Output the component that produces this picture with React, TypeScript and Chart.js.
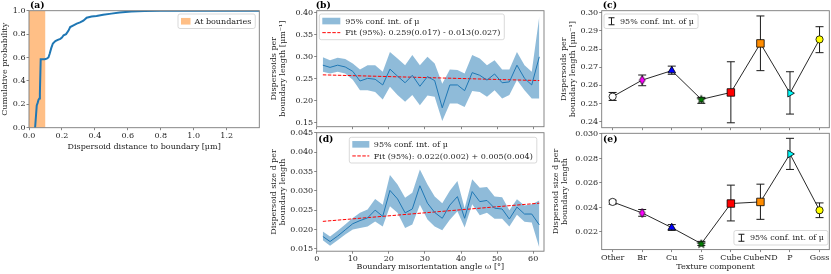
import React, { useEffect, useRef } from 'react';
import { Chart, registerables } from 'chart.js';

Chart.register(...registerables);

// ------------------------------ data ------------------------------
// (a) cumulative distribution of dispersoid distance to boundary
const distanceUm = [0.037, 0.047, 0.052, 0.058, 0.063, 0.066, 0.071, 0.08, 0.095, 0.108, 0.118, 0.125, 0.135, 0.145, 0.16, 0.175, 0.19, 0.2, 0.21, 0.225, 0.24, 0.25, 0.27, 0.29, 0.31, 0.33, 0.35, 0.38, 0.41, 0.45, 0.5, 0.55, 0.62, 0.7, 0.8, 1.0, 1.4];
const cumulativeProb = [0, 0.19, 0.21, 0.24, 0.25, 0.29, 0.585, 0.585, 0.585, 0.59, 0.6, 0.63, 0.68, 0.72, 0.74, 0.75, 0.76, 0.77, 0.79, 0.8, 0.83, 0.86, 0.875, 0.89, 0.9, 0.915, 0.94, 0.95, 0.955, 0.965, 0.975, 0.985, 0.993, 0.997, 1.0, 1.0, 1.0];
const boundaryZone = [0, 0.1];

// (b), (d) vs boundary misorientation angle
const misorientation = [1.7, 3.7, 5.8, 7.9, 10.0, 12.0, 14.1, 16.2, 18.3, 20.3, 22.4, 24.5, 26.5, 28.6, 30.7, 32.7, 34.8, 36.9, 39.0, 41.0, 43.1, 45.2, 47.2, 49.3, 51.4, 53.4, 55.5, 57.6, 59.6, 61.7];
const densityMean = [0.281, 0.276, 0.281, 0.277, 0.267, 0.245, 0.251, 0.249, 0.236, 0.272, 0.256, 0.241, 0.258, 0.233, 0.255, 0.246, 0.184, 0.236, 0.236, 0.223, 0.264, 0.258, 0.247, 0.261, 0.241, 0.243, 0.281, 0.251, 0.236, 0.3];
const densityHigh = [0.299, 0.292, 0.298, 0.295, 0.285, 0.271, 0.281, 0.281, 0.266, 0.311, 0.296, 0.281, 0.304, 0.281, 0.3, 0.285, 0.239, 0.271, 0.27, 0.262, 0.304, 0.296, 0.281, 0.292, 0.271, 0.271, 0.311, 0.281, 0.266, 0.392];
const densityLow = [0.266, 0.262, 0.266, 0.262, 0.248, 0.224, 0.224, 0.22, 0.203, 0.232, 0.213, 0.198, 0.213, 0.19, 0.212, 0.209, 0.154, 0.194, 0.194, 0.186, 0.222, 0.22, 0.209, 0.224, 0.205, 0.213, 0.247, 0.224, 0.205, 0.205];
const densityFitX = [1.7, 61.7];
const densityFit = [0.259, 0.246];

const sizeMean = [0.0182, 0.0169, 0.0183, 0.0199, 0.0215, 0.0223, 0.023, 0.025, 0.0234, 0.0301, 0.0279, 0.0243, 0.0253, 0.0313, 0.0268, 0.0244, 0.0229, 0.0263, 0.0285, 0.0229, 0.0298, 0.0272, 0.0275, 0.0255, 0.0253, 0.0227, 0.0258, 0.024, 0.024, 0.0212];
const sizeHigh = [0.0195, 0.0182, 0.0197, 0.0213, 0.023, 0.0243, 0.0252, 0.0279, 0.0264, 0.0341, 0.0316, 0.0282, 0.0295, 0.0355, 0.0316, 0.0285, 0.0268, 0.03, 0.0325, 0.0255, 0.033, 0.0308, 0.031, 0.0285, 0.0283, 0.025, 0.0278, 0.0262, 0.0265, 0.0275];
const sizeLow = [0.0172, 0.0158, 0.0172, 0.0187, 0.02, 0.0204, 0.0208, 0.0221, 0.0208, 0.026, 0.0243, 0.0204, 0.0213, 0.0264, 0.0226, 0.0208, 0.0198, 0.0225, 0.0247, 0.0205, 0.0265, 0.0237, 0.0243, 0.0228, 0.0228, 0.0208, 0.0238, 0.022, 0.0218, 0.0153];
const sizeFitX = [1.7, 61.7];
const sizeFit = [0.0221, 0.0268];

// (c), (e) per texture component
const textureComponents = ['Other', 'Br', 'Cu', 'S', 'Cube', 'CubeND', 'P', 'Goss'];
const texDensityMean = [0.2538, 0.2629, 0.2681, 0.2523, 0.2561, 0.2831, 0.2557, 0.2853];
const texDensityLow = [0.2517, 0.2598, 0.2661, 0.2501, 0.2394, 0.2681, 0.2442, 0.278];
const texDensityHigh = [0.2561, 0.2657, 0.2706, 0.2534, 0.273, 0.2982, 0.2675, 0.2923];
const texSizeMean = [0.02445, 0.02355, 0.02235, 0.02104, 0.02432, 0.02445, 0.02836, 0.02377];
const texSizeLow = [0.02426, 0.02328, 0.02213, 0.0209, 0.0229, 0.02303, 0.0271, 0.02317];
const texSizeHigh = [0.02459, 0.02383, 0.0226, 0.02123, 0.02582, 0.0259, 0.02964, 0.02437];

// ------------------------------ style ------------------------------
const W = 831;
const H = 274;
const serif = '"DejaVu Serif", serif';
const TICK_FS = 8;
const TITLE_FS = 8;
const LEG_FS = 8;
const LBL_FS = 9.2;
const TXT = '#1e1e1e';
const SPINE = '#7a7a7a';
const BLUE = '#1f77b4';
const BAND = 'rgba(31,119,180,0.5)';
const ORANGE = 'rgba(255,127,14,0.5)';
const NONE = 'rgba(0,0,0,0)';

type Area = { l: number; t: number; r: number; b: number };

function axis(o: {
  pos: 'left' | 'bottom'; min: number; max: number; step: number; decimals?: number;
  labels?: boolean; names?: string[]; title?: string | string[]; size: number; pad?: number; titlePad?: number;
}) {
  return {
    type: 'linear',
    position: o.pos,
    min: o.min,
    max: o.max,
    afterBuildTicks: (s: any) => {
      const out: any[] = [];
      const k0 = Math.ceil(o.min / o.step - 1e-6);
      const k1 = Math.floor(o.max / o.step + 1e-6);
      for (let k = k0; k <= k1; k++) out.push({ value: +(k * o.step).toFixed(10) });
      s.ticks = out;
    },
    afterFit: (s: any) => {
      if (o.pos === 'bottom') s.height = o.size; else s.width = o.size;
    },
    ticks: {
      display: o.labels !== false,
      stepSize: o.step,
      autoSkip: false,
      maxRotation: 0,
      minRotation: 0,
      padding: o.pad ?? 1,
      color: TXT,
      font: { family: serif, size: TICK_FS, lineHeight: 1.2 },
      callback: (v: any) => (o.names ? o.names[Math.round(Number(v))] ?? '' : Number(v).toFixed(o.decimals ?? 1)),
    },
    grid: { display: true, drawOnChartArea: false, drawTicks: true, tickLength: 2.5, tickColor: SPINE, tickWidth: 0.9, color: SPINE, lineWidth: 0.9 },
    border: { display: false },
    title: o.title
      ? { display: true, text: o.title, color: TXT, font: { family: serif, size: TITLE_FS, lineHeight: 1.15 }, padding: { top: o.titlePad ?? 0, bottom: o.titlePad ?? 0 } }
      : { display: false },
  };
}

function baseOptions(area: Area, axisLeft: number, axisBottom: number, scales: any) {
  return {
    responsive: false,
    animation: false,
    devicePixelRatio: 1,
    events: [],
    layout: { autoPadding: false, padding: { left: axisLeft, top: area.t, right: W - area.r, bottom: H - axisBottom } },
    plugins: { legend: { display: false }, tooltip: { enabled: false }, title: { display: false } },
    scales,
  };
}

const framePlugin = {
  id: 'frame',
  afterDatasetsDraw(chart: any) {
    const { ctx, chartArea: a } = chart;
    ctx.save();
    ctx.strokeStyle = SPINE;
    ctx.lineWidth = 0.9;
    ctx.strokeRect(a.left, a.top, a.right - a.left, a.bottom - a.top);
    ctx.restore();
  },
};

function panelLabel(text: string, dx: number, y: number) {
  return {
    id: 'panelLabel',
    afterDraw(chart: any) {
      const { ctx, chartArea } = chart;
      ctx.save();
      ctx.font = `bold ${LBL_FS}px ${serif}`;
      ctx.fillStyle = '#000';
      ctx.textAlign = 'left';
      ctx.textBaseline = 'alphabetic';
      ctx.fillText(text, chartArea.left + dx, y);
      ctx.restore();
    },
  };
}

type LegItem = { kind: 'patch' | 'dash' | 'errbar'; color: string; text: string };
function legendPlugin(cfg: { left?: number; right?: number; top: number; rowH: number; handleW: number; gap: number; items: LegItem[] }) {
  return {
    id: 'customLegend',
    afterDraw(chart: any) {
      const ctx = chart.ctx as CanvasRenderingContext2D;
      ctx.save();
      ctx.font = `${LEG_FS}px ${serif}`;
      const textW = Math.max(...cfg.items.map((it) => ctx.measureText(it.text).width));
      const pad = 3;
      const w = pad + cfg.handleW + cfg.gap + textW + pad + 1;
      const h = cfg.rowH * cfg.items.length + 2.5;
      const x0 = cfg.left ?? (cfg.right as number) - w;
      ctx.beginPath();
      (ctx as any).roundRect(x0, cfg.top, w, h, 2);
      ctx.fillStyle = 'rgba(255,255,255,0.8)';
      ctx.fill();
      ctx.strokeStyle = '#cfcfcf';
      ctx.lineWidth = 0.8;
      ctx.stroke();
      cfg.items.forEach((it, i) => {
        const cy = cfg.top + 1.25 + cfg.rowH * (i + 0.5);
        const hx = x0 + pad;
        if (it.kind === 'patch') {
          ctx.fillStyle = it.color;
          ctx.fillRect(hx, cy - 3.3, cfg.handleW, 6.6);
        } else if (it.kind === 'dash') {
          ctx.strokeStyle = it.color;
          ctx.lineWidth = 1;
          ctx.setLineDash([3.5, 1.5]);
          ctx.beginPath();
          ctx.moveTo(hx, cy);
          ctx.lineTo(hx + cfg.handleW, cy);
          ctx.stroke();
          ctx.setLineDash([]);
        } else {
          const mx = hx + cfg.handleW / 2;
          ctx.strokeStyle = it.color;
          ctx.lineWidth = 1;
          ctx.beginPath();
          ctx.moveTo(mx, cy - 3.5);
          ctx.lineTo(mx, cy + 3.5);
          ctx.moveTo(mx - 3, cy - 3.5);
          ctx.lineTo(mx + 3, cy - 3.5);
          ctx.moveTo(mx - 3, cy + 3.5);
          ctx.lineTo(mx + 3, cy + 3.5);
          ctx.stroke();
        }
        ctx.fillStyle = TXT;
        ctx.textAlign = 'left';
        ctx.textBaseline = 'middle';
        ctx.fillText(it.text, hx + cfg.handleW + cfg.gap, cy + 0.5);
      });
      ctx.restore();
    },
  };
}

function errorBarPlugin(lo: number[], hi: number[]) {
  return {
    id: 'errbars',
    beforeDatasetsDraw(chart: any) {
      const { ctx } = chart;
      const xs = chart.scales.x;
      const ys = chart.scales.y;
      ctx.save();
      ctx.strokeStyle = '#1a1a1a';
      ctx.lineWidth = 1;
      const cap = 4;
      lo.forEach((l, i) => {
        const px = xs.getPixelForValue(i);
        const y1 = ys.getPixelForValue(l);
        const y2 = ys.getPixelForValue(hi[i]);
        ctx.beginPath();
        ctx.moveTo(px, y1);
        ctx.lineTo(px, y2);
        ctx.moveTo(px - cap, y1);
        ctx.lineTo(px + cap, y1);
        ctx.moveTo(px - cap, y2);
        ctx.lineTo(px + cap, y2);
        ctx.stroke();
      });
      ctx.restore();
    },
  };
}

function markerCanvas(w: number, h: number, draw: (ctx: CanvasRenderingContext2D) => void) {
  const c = document.createElement('canvas');
  c.width = w;
  c.height = h;
  const ctx = c.getContext('2d') as CanvasRenderingContext2D;
  draw(ctx);
  return c;
}

function texturePointStyles() {
  const diamond = markerCanvas(8, 11, (ctx) => {
    ctx.beginPath();
    ctx.moveTo(4, 1);
    ctx.lineTo(6.8, 5.5);
    ctx.lineTo(4, 10);
    ctx.lineTo(1.2, 5.5);
    ctx.closePath();
    ctx.fillStyle = '#ff00ff';
    ctx.fill();
    ctx.strokeStyle = '#000';
    ctx.lineWidth = 0.8;
    ctx.stroke();
  });
  const star = markerCanvas(10, 10, (ctx) => {
    ctx.beginPath();
    for (let i = 0; i < 10; i++) {
      const r = i % 2 === 0 ? 4.4 : 1.9;
      const a = -Math.PI / 2 + (i * Math.PI) / 5;
      const px = 5 + r * Math.cos(a);
      const py = 5.3 + r * Math.sin(a);
      if (i === 0) ctx.moveTo(px, py); else ctx.lineTo(px, py);
    }
    ctx.closePath();
    ctx.fillStyle = '#008000';
    ctx.fill();
    ctx.strokeStyle = '#000';
    ctx.lineWidth = 0.7;
    ctx.stroke();
  });
  return {
    styles: ['circle', diamond, 'triangle', star, 'rect', 'rect', 'triangle', 'circle'],
    rotations: [0, 0, 0, 0, 0, 0, 90, 0],
    radii: [3.6, 4, 4.4, 4, 5.3, 5.3, 4.4, 3.6],
    fills: ['#ffffff', '#ff00ff', '#0000ff', '#008000', '#ff0000', '#ff8c00', '#00ffff', '#ffff00'],
  };
}

const pts = (xs: number[], ys: number[]) => xs.map((x, i) => ({ x, y: ys[i] }));

// ------------------------------ panels ------------------------------
function buildA(canvas: HTMLCanvasElement) {
  const area: Area = { l: 29, t: 10.7, r: 259.3, b: 127.7 };
  const axisLeft = 0;
  const axisBottom = 151.9;
  return new Chart(canvas, {
    type: 'line',
    data: {
      datasets: [
        { data: pts(distanceUm, cumulativeProb), borderColor: BLUE, borderWidth: 2, pointRadius: 0, fill: false, tension: 0 },
        { data: pts(boundaryZone, boundaryZone.map(() => 1)), borderColor: NONE, borderWidth: 0, pointRadius: 0, backgroundColor: ORANGE, fill: 'origin' },
      ],
    } as any,
    options: baseOptions(area, axisLeft, axisBottom, {
      x: axis({ pos: 'bottom', min: 0, max: 1.398, step: 0.2, decimals: 1, title: 'Dispersoid distance to boundary [μm]', size: axisBottom - area.b, pad: 1 }),
      y: axis({ pos: 'left', min: 0, max: 1, step: 0.2, decimals: 1, title: 'Cumulative probability', size: area.l - axisLeft, pad: 1, titlePad: 0.4 }),
    }) as any,
    plugins: [
      framePlugin,
      legendPlugin({ left: 178, top: 14, rowH: 12, handleW: 9.5, gap: 4, items: [{ kind: 'patch', color: ORANGE, text: 'At boundaries' }] }),
      panelLabel('(a)', 1, 7.6),
    ] as any,
  });
}

function buildB(canvas: HTMLCanvasElement) {
  const area: Area = { l: 316.7, t: 10.7, r: 544, b: 126.7 };
  const axisLeft = 269.4;
  const axisBottom = 131;
  return new Chart(canvas, {
    type: 'line',
    data: {
      datasets: [
        { data: pts(misorientation, densityMean), borderColor: BLUE, borderWidth: 1, pointRadius: 0, fill: false },
        { data: pts(densityFitX, densityFit), borderColor: '#ff0000', borderWidth: 1, borderDash: [3.5, 1.5], pointRadius: 0, fill: false },
        { data: pts(misorientation, densityHigh), borderColor: NONE, borderWidth: 0, pointRadius: 0, backgroundColor: BAND, fill: '+1' },
        { data: pts(misorientation, densityLow), borderColor: NONE, borderWidth: 0, pointRadius: 0, fill: false },
      ],
    } as any,
    options: baseOptions(area, axisLeft, axisBottom, {
      x: axis({ pos: 'bottom', min: 0, max: 63, step: 10, labels: false, size: axisBottom - area.b }),
      y: axis({ pos: 'left', min: 0.141, max: 0.405, step: 0.05, decimals: 2, title: ['Dispersoids per', 'boundary length [μm⁻¹]'], size: area.l - axisLeft, pad: 1 }),
    }) as any,
    plugins: [
      framePlugin,
      legendPlugin({
        left: 319.3, top: 14, rowH: 11.6, handleW: 18, gap: 5,
        items: [
          { kind: 'patch', color: BAND, text: '95% conf. int. of μ' },
          { kind: 'dash', color: '#ff0000', text: 'Fit (95%): 0.259(0.017) - 0.013(0.027)' },
        ],
      }),
      panelLabel('(b)', -1, 7.6),
    ] as any,
  });
}

function buildD(canvas: HTMLCanvasElement) {
  const area: Area = { l: 316.7, t: 132.7, r: 544, b: 251.2 };
  const axisLeft = 269.4;
  const axisBottom = 271.9;
  return new Chart(canvas, {
    type: 'line',
    data: {
      datasets: [
        { data: pts(misorientation, sizeMean), borderColor: BLUE, borderWidth: 1, pointRadius: 0, fill: false },
        { data: pts(sizeFitX, sizeFit), borderColor: '#ff0000', borderWidth: 1, borderDash: [3.5, 1.5], pointRadius: 0, fill: false },
        { data: pts(misorientation, sizeHigh), borderColor: NONE, borderWidth: 0, pointRadius: 0, backgroundColor: BAND, fill: '+1' },
        { data: pts(misorientation, sizeLow), borderColor: NONE, borderWidth: 0, pointRadius: 0, fill: false },
      ],
    } as any,
    options: baseOptions(area, axisLeft, axisBottom, {
      x: axis({ pos: 'bottom', min: 0, max: 63, step: 10, decimals: 0, title: 'Boundary misorientation angle ω [°]', size: axisBottom - area.b, pad: 0 }),
      y: axis({ pos: 'left', min: 0.0144, max: 0.045, step: 0.005, decimals: 3, title: ['Dispersoid size d per', 'boundary length'], size: area.l - axisLeft, pad: 1 }),
    }) as any,
    plugins: [
      framePlugin,
      legendPlugin({
        left: 349.3, top: 137.3, rowH: 11.6, handleW: 17, gap: 4.5,
        items: [
          { kind: 'patch', color: BAND, text: '95% conf. int. of μ' },
          { kind: 'dash', color: '#ff0000', text: 'Fit (95%): 0.022(0.002) + 0.005(0.004)' },
        ],
      }),
      panelLabel('(d)', 1.6, 142),
    ] as any,
  });
}

function buildTexture(canvas: HTMLCanvasElement, which: 'c' | 'e') {
  const ps = texturePointStyles();
  const isC = which === 'c';
  const area: Area = isC ? { l: 601.7, t: 10.7, r: 829.3, b: 127.7 } : { l: 601.7, t: 133.3, r: 829.3, b: 249.6 };
  const axisLeft = isC ? 559.4 : 551.4;
  const axisBottom = isC ? 132 : 271.4;
  const mean = isC ? texDensityMean : texSizeMean;
  const lo = isC ? texDensityLow : texSizeLow;
  const hi = isC ? texDensityHigh : texSizeHigh;
  return new Chart(canvas, {
    type: 'line',
    data: {
      datasets: [
        {
          data: mean.map((v, i) => ({ x: i, y: v })),
          borderColor: '#111',
          borderWidth: 0.9,
          fill: false,
          pointStyle: ps.styles,
          pointRotation: ps.rotations,
          pointRadius: ps.radii,
          pointBackgroundColor: ps.fills,
          pointBorderColor: '#000',
          pointBorderWidth: 0.8,
        },
      ],
    } as any,
    options: baseOptions(area, axisLeft, axisBottom, {
      x: axis({ pos: 'bottom', min: -0.37, max: 7.33, step: 1, names: textureComponents, labels: !isC, title: isC ? undefined : 'Texture component', size: axisBottom - area.b, pad: 1 }),
      y: isC
        ? axis({ pos: 'left', min: 0.2367, max: 0.3011, step: 0.01, decimals: 2, title: ['Dispersoids per', 'boundary length [μm⁻¹]'], size: area.l - axisLeft, pad: 1 })
        : axis({ pos: 'left', min: 0.02056, max: 0.03005, step: 0.002, decimals: 3, title: ['Dispersoid size d per', 'boundary length'], size: area.l - axisLeft, pad: 1 }),
    }) as any,
    plugins: [
      errorBarPlugin(lo, hi),
      framePlugin,
      isC
        ? legendPlugin({ left: 604, top: 14, rowH: 12, handleW: 9, gap: 4, items: [{ kind: 'errbar', color: '#1a1a1a', text: '95% conf. int. of μ' }] })
        : legendPlugin({ right: 828, top: 230.5, rowH: 12, handleW: 9, gap: 4, items: [{ kind: 'errbar', color: '#1a1a1a', text: '95% conf. int. of μ' }] }),
      isC ? panelLabel('(c)', 1, 7.6) : panelLabel('(e)', 1.3, 142.3),
    ] as any,
  });
}

export default function App() {
  const rA = useRef<HTMLCanvasElement>(null);
  const rB = useRef<HTMLCanvasElement>(null);
  const rC = useRef<HTMLCanvasElement>(null);
  const rD = useRef<HTMLCanvasElement>(null);
  const rE = useRef<HTMLCanvasElement>(null);
  useEffect(() => {
    const charts = [
      buildA(rA.current as HTMLCanvasElement),
      buildB(rB.current as HTMLCanvasElement),
      buildTexture(rC.current as HTMLCanvasElement, 'c'),
      buildD(rD.current as HTMLCanvasElement),
      buildTexture(rE.current as HTMLCanvasElement, 'e'),
    ];
    return () => charts.forEach((c) => c.destroy());
  }, []);
  const cs: React.CSSProperties = { position: 'absolute', left: 0, top: 0, width: W, height: H };
  return (
    <div style={{ position: 'absolute', left: 0, top: 0, width: W, height: H, background: '#fff', overflow: 'hidden' }}>
      <canvas ref={rA} width={W} height={H} style={cs} />
      <canvas ref={rB} width={W} height={H} style={cs} />
      <canvas ref={rC} width={W} height={H} style={cs} />
      <canvas ref={rD} width={W} height={H} style={cs} />
      <canvas ref={rE} width={W} height={H} style={cs} />
    </div>
  );
}
